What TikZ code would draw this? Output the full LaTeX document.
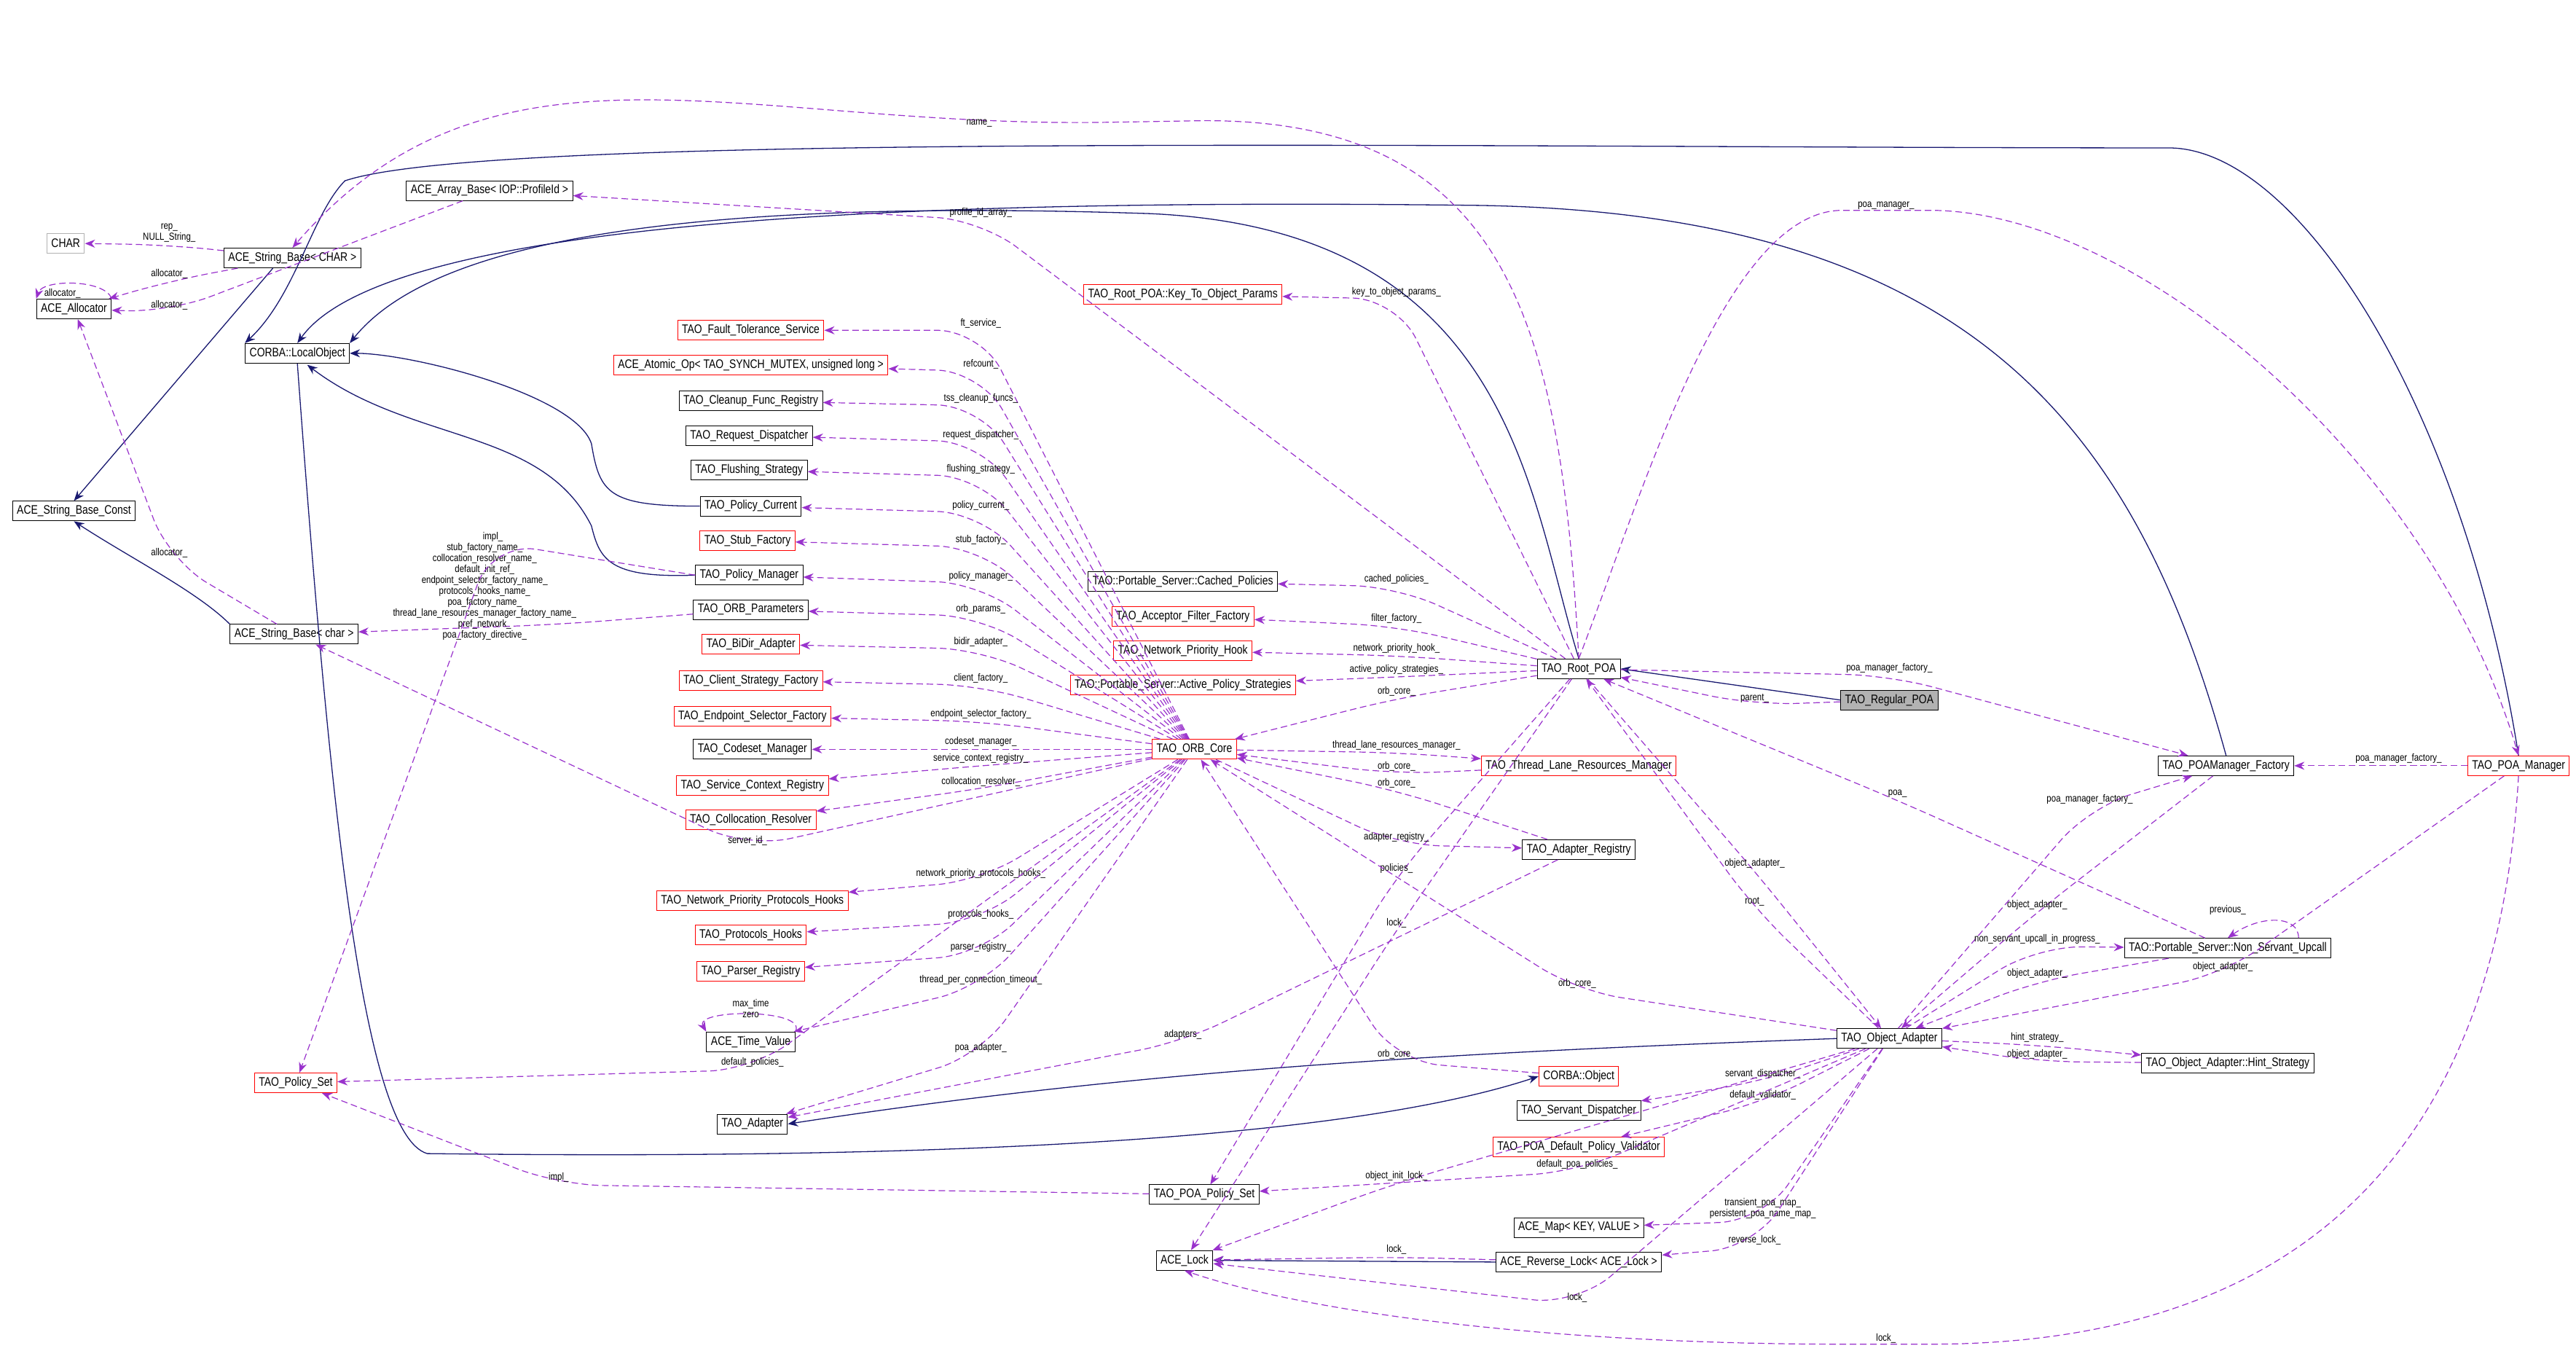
\documentclass[tikz,border=0pt]{standalone}
\usepackage{fontspec}
\setmainfont{Liberation Sans}[FakeStretch=0.82]
\usetikzlibrary{arrows.meta,calc}
\definecolor{inhc}{RGB}{25,25,112}
\definecolor{depc}{RGB}{153,50,204}
\tikzset{
 cls/.style={draw=black,line width=1pt,fill=white,font=\fontsize{17}{19}\selectfont,minimum height=27pt,inner xsep=6pt,inner ysep=3pt},
 rcls/.style={cls,draw=red},
 inh/.style={draw=inhc,line width=1.3pt,-{Stealth[length=14pt,width=11pt]}},
 dep/.style={draw=depc,line width=1.2pt,dash pattern=on 9pt off 5pt,rounded corners=60pt,-{Stealth[length=14pt,width=11pt]}},
 lbl/.style={font=\fontsize{14}{15}\selectfont,inner sep=1pt,anchor=south,align=center},
}
\newcommand\dep[4]{\draw[dep] (#1) -- ($(#4)+(0,1)$) -- (#2); \node[lbl] at (#4) {#3};}
\begin{document}
\begin{tikzpicture}[x=2.255pt,y=-2.255pt]
\useasboundingbox (0,0) rectangle (1568,831.5);
% nodes
\node[cls,draw=gray!60] (char) at (40,148) {CHAR};
\node[cls] (sbCHAR) at (178,157) {ACE\_String\_Base< CHAR >};
\node[cls] (alloc) at (45,188) {ACE\_Allocator};
\node[cls] (arr) at (298,116) {ACE\_Array\_Base< IOP::ProfileId >};
\node[cls] (lo) at (181,215) {CORBA::LocalObject};
\node[cls] (sbc) at (45,311) {ACE\_String\_Base\_Const};
\node[cls] (sbchar) at (179,386) {ACE\_String\_Base< char >};
\node[rcls] (ps) at (180,659) {TAO\_Policy\_Set};
\node[cls] (adapter) at (458,684) {TAO\_Adapter};
\node[rcls] (k2o) at (720,179) {TAO\_Root\_POA::Key\_To\_Object\_Params};
\node[rcls] (fts) at (457,201) {TAO\_Fault\_Tolerance\_Service};
\node[rcls] (atom) at (457,222) {ACE\_Atomic\_Op< TAO\_SYNCH\_MUTEX, unsigned long >};
\node[cls] (cfr) at (457,244) {TAO\_Cleanup\_Func\_Registry};
\node[cls] (rd) at (456,265) {TAO\_Request\_Dispatcher};
\node[cls] (fs) at (456,286) {TAO\_Flushing\_Strategy};
\node[cls] (pc) at (457,308) {TAO\_Policy\_Current};
\node[rcls] (sf) at (455,329) {TAO\_Stub\_Factory};
\node[cls] (pmgr) at (456,350) {TAO\_Policy\_Manager};
\node[cls] (op) at (457,371) {TAO\_ORB\_Parameters};
\node[rcls] (bd) at (457,392) {TAO\_BiDir\_Adapter};
\node[rcls] (csf) at (457,414) {TAO\_Client\_Strategy\_Factory};
\node[rcls] (esf) at (458,436) {TAO\_Endpoint\_Selector\_Factory};
\node[cls] (cm) at (458,456) {TAO\_Codeset\_Manager};
\node[rcls] (scr) at (458,478) {TAO\_Service\_Context\_Registry};
\node[rcls] (cr) at (457,499) {TAO\_Collocation\_Resolver};
\node[rcls] (nph2) at (458,548) {TAO\_Network\_Priority\_Protocols\_Hooks};
\node[rcls] (ph) at (457,569) {TAO\_Protocols\_Hooks};
\node[rcls] (pr) at (457,591) {TAO\_Parser\_Registry};
\node[cls] (tv) at (457,634) {ACE\_Time\_Value};
\node[rcls] (oc) at (727,456) {TAO\_ORB\_Core};
\node[cls] (cp) at (720,354) {TAO::Portable\_Server::Cached\_Policies};
\node[rcls] (aff) at (720,375) {TAO\_Acceptor\_Filter\_Factory};
\node[rcls] (nph) at (720,396) {TAO\_Network\_Priority\_Hook};
\node[rcls] (aps) at (720,417) {TAO::Portable\_Server::Active\_Policy\_Strategies};
\node[cls] (rp) at (961,407) {TAO\_Root\_POA};
\node[cls,fill=gray!60] (reg) at (1150,426) {TAO\_Regular\_POA};
\node[rcls] (tlrm) at (961,466) {TAO\_Thread\_Lane\_Resources\_Manager};
\node[cls] (ar) at (961,517) {TAO\_Adapter\_Registry};
\node[rcls] (cobj) at (961,655) {CORBA::Object};
\node[cls] (sd) at (961,676) {TAO\_Servant\_Dispatcher};
\node[rcls] (dpv) at (961,698) {TAO\_POA\_Default\_Policy\_Validator};
\node[cls] (pps) at (733,727) {TAO\_POA\_Policy\_Set};
\node[cls] (map) at (961,747) {ACE\_Map< KEY, VALUE >};
\node[cls] (lock) at (721,767) {ACE\_Lock};
\node[cls] (rl) at (961,768) {ACE\_Reverse\_Lock< ACE\_Lock >};
\node[cls] (pmf) at (1355,466) {TAO\_POAManager\_Factory};
\node[rcls] (pm) at (1533,466) {TAO\_POA\_Manager};
\node[cls] (nsu) at (1356,577) {TAO::Portable\_Server::Non\_Servant\_Upcall};
\node[cls] (oa) at (1150,632) {TAO\_Object\_Adapter};
\node[cls] (hs) at (1356,647) {TAO\_Object\_Adapter::Hint\_Strategy};
% inheritance
\draw[inh] (sbCHAR.south west) ++(30,0) -- (sbc.north);
\draw[inh] (sbchar.north west) .. controls (120,360) and (80,340) .. (sbc.south);
\draw[inh] (pc.west) .. controls (370,308) and (365,300) .. (360,270) .. controls (350,240) and (250,215) .. (lo.east);
\draw[inh] (pmgr.west) .. controls (370,352) and (365,340) .. (360,320) .. controls (330,260) and (250,270) .. (187,222);
\draw[inh] (rp.north) .. controls (930,300) and (920,140) .. (700,130) .. controls (400,120) and (260,150) .. (lo.north east);
\draw[inh] (pmf.north) .. controls (1300,260) and (1200,130) .. (900,125) .. controls (500,120) and (230,140) .. (lo.north);
\draw[inh] (pm.north) .. controls (1500,250) and (1400,90) .. (1320,90) .. controls (900,90) and (300,80) .. (210,110) .. controls (190,130) and (180,180) .. (lo.north west);
\draw[inh] (lo.south) .. controls (200,480) and (220,690) .. (260,702) .. controls (500,705) and (800,700) .. (cobj.west);
\draw[inh] (oa.west) .. controls (900,640) and (700,650) .. (adapter.east);
\draw[inh] (reg.west) -- (rp.east);
\draw[inh] (rl.west) -- (lock.east);
% dependencies
\dep{sbCHAR}{char}{rep\_\\NULL\_String\_}{103,148}
\dep{sbCHAR}{alloc}{allocator\_}{103,170}
\dep{arr}{alloc}{allocator\_}{103,189}
\draw[dep] (alloc.north east) .. controls +(-4,-12) and +(4,-12) .. (alloc.north west);
\node[lbl] at (38,182) {allocator\_};
\dep{sbchar}{alloc}{allocator\_}{103,340}
\draw[dep] (op) -- (340,380) -- (sbchar);
\node[lbl,anchor=center] at (295,360) {stub\_factory\_name\_\\collocation\_resolver\_name\_\\default\_init\_ref\_\\endpoint\_selector\_factory\_name\_\\protocols\_hooks\_name\_\\poa\_factory\_name\_\\thread\_lane\_resources\_manager\_factory\_name\_\\pref\_network\_\\poa\_factory\_directive\_};
\draw[dep] (pmgr.west) -- (300,330) -- (ps);
\node[lbl] at (300,330) {impl\_};
\dep{pps}{ps}{impl\_}{340,720}
\foreach \t/\l/\y in {fts/ft\_service\_/200,atom/refcount\_/225,cfr/tss\_cleanup\_funcs\_/246,rd/request\_dispatcher\_/268,fs/flushing\_strategy\_/289,pc/policy\_current\_/311,sf/stub\_factory\_/332,pmgr/policy\_manager\_/354,op/orb\_params\_/374,bd/bidir\_adapter\_/394,csf/client\_factory\_/416,esf/endpoint\_selector\_factory\_/438,cm/codeset\_manager\_/455,scr/service\_context\_registry\_/465,cr/collocation\_resolver\_/479,nph2/network\_priority\_protocols\_hooks\_/535,ph/protocols\_hooks\_/560,pr/parser\_registry\_/580,tv/thread\_per\_connection\_timeout\_/600,adapter/poa\_adapter\_/641}
 {\dep{oc}{\t}{\l}{597,\y}}
\dep{oc}{sbchar}{server\_id\_}{455,515}
\dep{oc}{ps}{default\_policies\_}{458,650}
\draw[dep] (tv.north east) .. controls +(8,-14) and +(-8,-14) .. (tv.north west);
\node[lbl] at (457,620) {max\_time\\zero};
\draw[dep] (rp.north) .. controls (950,200) and (920,70) .. (700,74) .. controls (450,78) and (300,10) .. (sbCHAR.north);
\node[lbl] at (596,78) {name\_};
\dep{rp}{arr}{profile\_id\_array\_}{597,133}
\dep{rp}{k2o}{key\_to\_object\_params\_}{850,181}
\dep{rp}{cp}{cached\_policies\_}{850,356}
\dep{rp}{aff}{filter\_factory\_}{850,380}
\dep{rp}{nph}{network\_priority\_hook\_}{850,398}
\dep{rp}{aps}{active\_policy\_strategies\_}{850,411}
\dep{rp}{oc}{orb\_core\_}{850,424}
\draw[dep] (rp.north) .. controls (1000,300) and (1050,128) .. (1148,128) .. controls (1300,128) and (1480,280) .. (pm.north);
\node[lbl] at (1148,128) {poa\_manager\_};
\dep{rp}{pmf}{poa\_manager\_factory\_}{1150,410}
\dep{reg}{rp}{parent\_}{1068,428}
\dep{nsu}{rp}{poa\_}{1155,486}
\dep{rp}{oa}{object\_adapter\_}{1068,529}
\dep{oa}{rp}{root\_}{1068,552}
\dep{rp}{pps}{policies\_}{850,532}
\dep{rp}{lock}{lock\_}{850,565}
\dep{oc}{tlrm}{thread\_lane\_resources\_manager\_}{850,457}
\dep{tlrm}{oc}{orb\_core\_}{850,470}
\dep{ar}{oc}{orb\_core\_}{850,480}
\dep{oc}{ar}{adapter\_registry\_}{850,513}
\dep{ar}{adapter}{adapters\_}{720,633}
\dep{cobj}{oc}{orb\_core\_}{850,645}
\dep{oa}{oc}{orb\_core\_}{960,602}
\dep{oa}{pmf}{poa\_manager\_factory\_}{1272,490}
\dep{pmf}{oa}{object\_adapter\_}{1240,554}
\dep{oa}{nsu}{non\_servant\_upcall\_in\_progress\_}{1240,575}
\dep{nsu}{oa}{object\_adapter\_}{1240,596}
\dep{pm}{oa}{object\_adapter\_}{1353,592}
\draw[dep] (nsu.north east) ++(-20,0) .. controls +(0,-14) and +(20,-14) .. (nsu.north);
\node[lbl] at (1356,557) {previous\_};
\dep{oa}{hs}{hint\_strategy\_}{1240,635}
\dep{hs}{oa}{object\_adapter\_}{1240,645}
\dep{pm}{pmf}{poa\_manager\_factory\_}{1460,465}
\dep{oa}{sd}{servant\_dispatcher\_}{1073,657}
\dep{oa}{dpv}{default\_validator\_}{1073,670}
\dep{oa}{pps}{default\_poa\_policies\_}{960,712}
\dep{oa}{lock}{object\_init\_lock\_}{850,719}
\dep{oa}{map}{transient\_poa\_map\_\\persistent\_poa\_name\_map\_}{1073,742}
\dep{oa}{rl}{reverse\_lock\_}{1068,758}
\dep{rl}{lock}{lock\_}{850,764}
\dep{oa}{lock}{lock\_}{960,793}
\draw[dep] (pm.south) .. controls (1520,700) and (1400,818) .. (1148,818) .. controls (950,818) and (800,800) .. (lock.south);
\node[lbl] at (1148,818) {lock\_};
\end{tikzpicture}
\end{document}
